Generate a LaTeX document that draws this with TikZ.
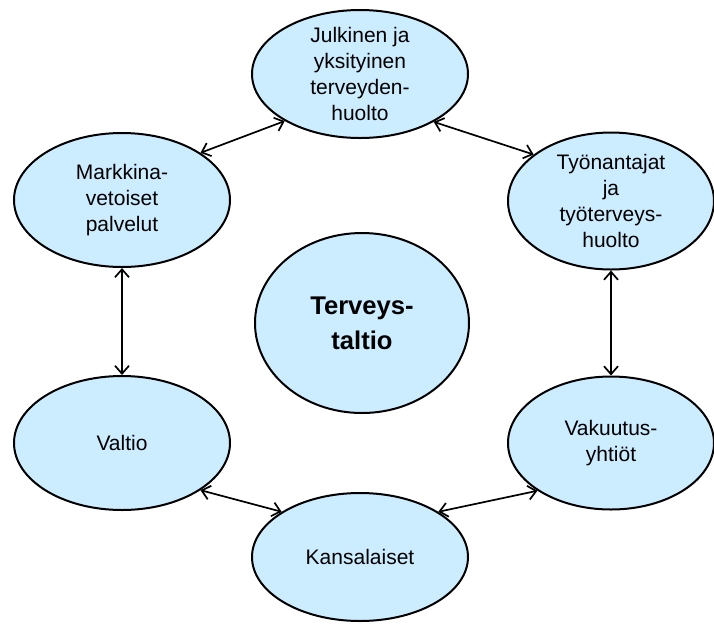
\documentclass[tikz,border=0pt]{standalone}
\usepackage{fontspec}
\setmainfont{Liberation Sans}
\usetikzlibrary{arrows.meta,shapes.geometric}
\definecolor{bubble}{HTML}{CCECFF}

\begin{document}
\begin{tikzpicture}[x=0.5pt,y=-0.5pt,
  every node/.style={font=\fontsize{10.5}{13}\selectfont},
  el/.style={draw,ellipse,fill=bubble,line width=1pt,inner xsep=0pt,
    inner ysep=-8pt,align=center},
  lk/.style={{Straight Barb[length=4pt,width=7pt]}-{Straight Barb[length=4pt,width=7pt]},
    line width=0.85pt}]
\useasboundingbox (0,0) rectangle (714,623);
\node[el,minimum width=216pt/2,minimum height=128pt/2] (jul) at (360,74)
  {Julkinen ja\\ yksityinen\\ terveyden-\\ huolto};
\node[el,minimum width=108pt,minimum height=67pt] (mar) at (122,200)
  {Markkina-\\ vetoiset\\ palvelut};
\node[el,minimum width=206pt/2,minimum height=137pt/2] (tyo) at (611,201)
  {Työnantajat\\ ja\\ työterveys-\\ huolto};
\node[el,minimum width=108pt,minimum height=67pt] (val) at (122,443) {Valtio};
\node[el,minimum width=206pt/2,minimum height=133pt/2] (vak) at (611,443)
  {Vakuutus-\\ yhtiöt};
\node[el,minimum width=108pt,minimum height=64pt] (kan) at (360,557) {Kansalaiset};
\node[el,minimum width=107pt,minimum height=90pt,
  font=\fontsize{12.8}{17.5}\selectfont\bfseries] (ter) at (362,323)
  {Terveys-\\ taltio};
\draw[lk] (mar.31) -- (jul.212);
\draw[lk] (jul.327) -- (tyo.149);
\draw[lk] (mar.south) -- (val.north);
\draw[lk] (tyo.south) -- (vak.north);
\draw[lk] (val.329) -- (kan.150);
\draw[lk] (kan.30) -- (vak.213);
\end{tikzpicture}
\end{document}
